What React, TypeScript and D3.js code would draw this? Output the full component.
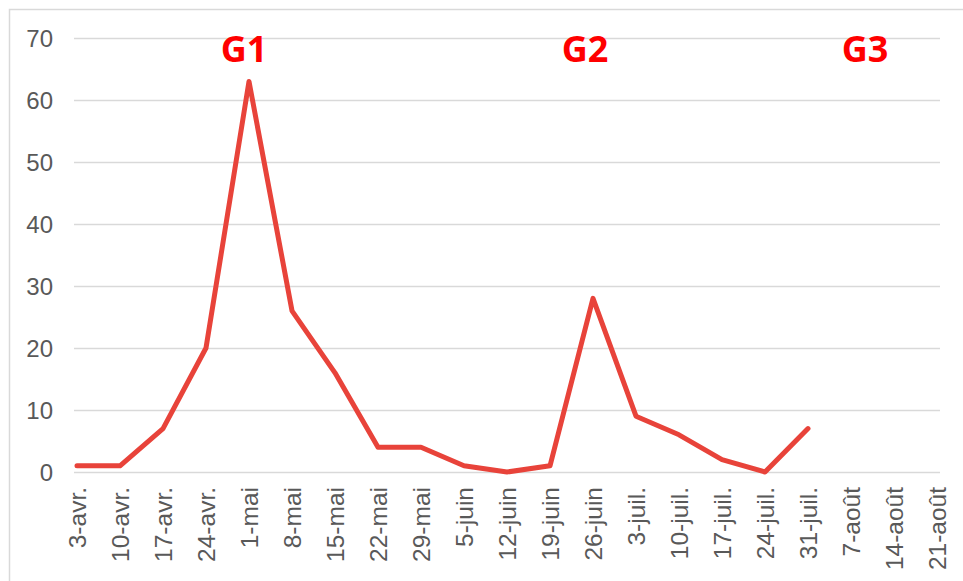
import React, { useEffect, useRef } from "react";
import * as d3 from "d3";

const weeks = [
  "3-avr.", "10-avr.", "17-avr.", "24-avr.", "1-mai", "8-mai", "15-mai",
  "22-mai", "29-mai", "5-juin", "12-juin", "19-juin", "26-juin", "3-juil.",
  "10-juil.", "17-juil.", "24-juil.", "31-juil.", "7-août", "14-août", "21-août",
];
const cases = [1, 1, 7, 20, 63, 26, 16, 4, 4, 1, 0, 1, 28, 9, 6, 2, 0, 7, null, null, null];
const yTicks = [0, 10, 20, 30, 40, 50, 60, 70];
const waveLabels = ["G1", "G2", "G3"];
const waveAt = ["1-mai", "26-juin", "7-août"];

const App = () => {
  const svgRef = useRef(null);
  const width = 963;
  const height = 581;
  const plot = { left: 74, right: 940, top: 38, bottom: 472 };

  useEffect(() => {
    const svgEl = d3.select(svgRef.current);
    svgEl.selectAll("*").remove();

    const x = d3.scalePoint().domain(weeks).range([77, 937]);
    const y = d3.scaleLinear().domain([0, 70]).range([plot.bottom, plot.top]);

    // frame
    svgEl
      .append("rect")
      .attr("x", 9.5)
      .attr("y", 9.5)
      .attr("width", 1000)
      .attr("height", 600)
      .attr("fill", "white")
      .attr("stroke", "#d9d9d9")
      .attr("stroke-width", 1.5);

    // grid + y labels
    const grid = svgEl.append("g");
    grid
      .selectAll("line")
      .data(yTicks)
      .join("line")
      .attr("x1", plot.left)
      .attr("x2", plot.right)
      .attr("y1", (d) => Math.round(y(d)) + 0.5)
      .attr("y2", (d) => Math.round(y(d)) + 0.5)
      .attr("stroke", "#d9d9d9")
      .attr("stroke-width", 1.5);

    grid
      .selectAll("text")
      .data(yTicks)
      .join("text")
      .attr("x", 53)
      .attr("y", (d) => y(d))
      .attr("dy", "0.36em")
      .attr("text-anchor", "end")
      .attr("fill", "#595959")
      .style("font-family", "Liberation Sans, Arial, sans-serif")
      .style("font-size", "24px")
      .text((d) => d);

    // x labels
    svgEl
      .append("g")
      .selectAll("text")
      .data(weeks)
      .join("text")
      .attr("transform", (d) => `translate(${x(d)},487) rotate(-90)`)
      .attr("dy", "0.36em")
      .attr("text-anchor", "end")
      .attr("fill", "#595959")
      .style("font-family", "Liberation Sans, Arial, sans-serif")
      .style("font-size", "24.5px")
      .text((d) => d);

    // line
    const line = d3
      .line()
      .defined((d) => d[1] != null)
      .x((d) => x(d[0]))
      .y((d) => y(d[1]));

    svgEl
      .append("path")
      .datum(weeks.map((w, i) => [w, cases[i]]))
      .attr("fill", "none")
      .attr("stroke", "#e8433a")
      .attr("stroke-width", 5)
      .attr("stroke-linejoin", "round")
      .attr("stroke-linecap", "round")
      .attr("d", line);

    // wave annotations
    svgEl
      .append("g")
      .selectAll("text")
      .data(waveLabels)
      .join("text")
      .attr("x", (d, i) => x(waveAt[i]) + [-5, -8, 14][i])
      .attr("y", 62)
      .attr("text-anchor", "middle")
      .attr("fill", "#ff0000")
      .style("font-family", "Open Sans, DejaVu Sans, sans-serif")
      .style("font-weight", "bold")
      .style("font-size", "36px")
      .text((d) => d);
  }, []);

  return (
    <svg
      ref={svgRef}
      width={width}
      height={height}
      style={{ position: "absolute", left: 0, top: 0 }}
    />
  );
};

export default App;
